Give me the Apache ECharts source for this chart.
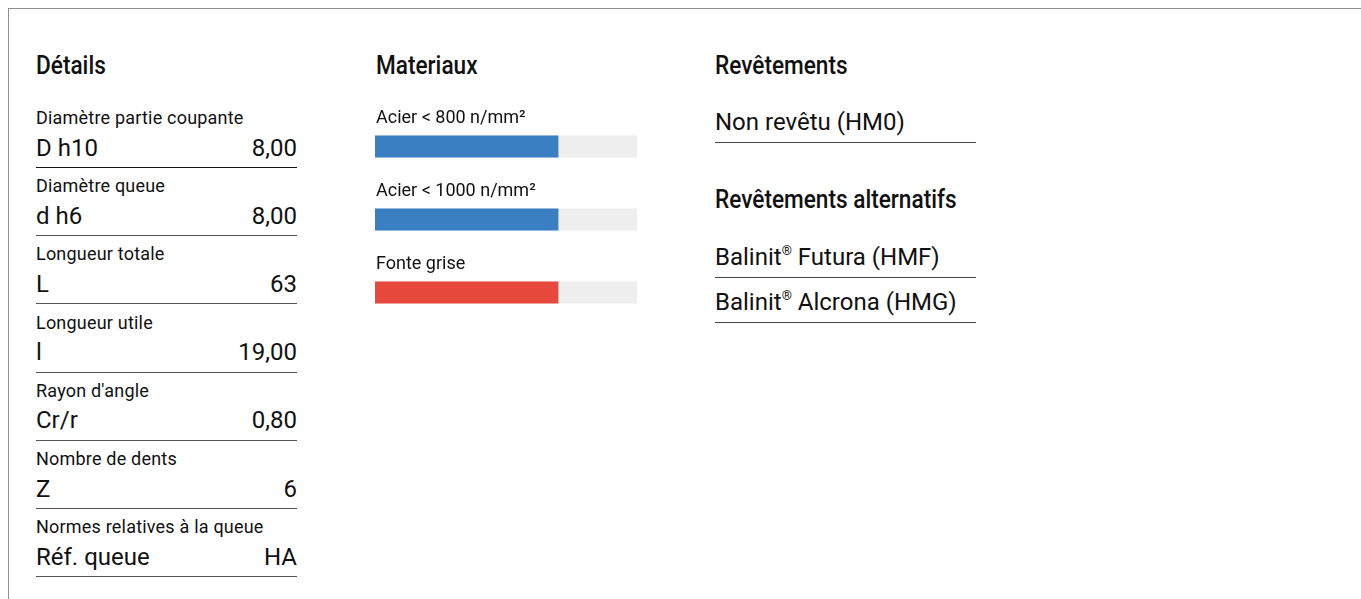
<!DOCTYPE html>
<html>
<head>
<meta charset="utf-8">
<script src="https://cdn.jsdelivr.net/npm/echarts@6/dist/echarts.min.js"></script>
<style>
  html, body { margin: 0; padding: 0; background: #fff; width: 1361px; height: 599px; overflow: hidden; }
  body { font-family: Roboto, "Noto Sans", sans-serif; color: #111; position: relative; }
  #frame { position: absolute; left: 8px; top: 8px; width: 1400px; height: 700px; border-left: 1px solid #8f8f8f; border-top: 1px solid #8f8f8f; }
  .h { position: absolute; font-size: 26px; font-weight: 500; line-height: 30px; color: #111; white-space: nowrap; transform: scaleX(0.87); transform-origin: 0 50%; }
  .lab { position: absolute; font-size: 18px; line-height: 20px; letter-spacing: 0.2px; white-space: nowrap; color: #111; }
  .val { position: absolute; font-size: 24px; line-height: 26px; white-space: nowrap; color: #111; }
  .rule { position: absolute; height: 1px; background: #333; }
  sup { font-size: 13px; vertical-align: 0; position: relative; top: -10px; }
  #chart { position: absolute; left: 360px; top: 90px; width: 300px; height: 240px; }
</style>
</head>
<body>
<div id="frame"></div>
<div id="root"></div>
<div id="chart"></div>
<script>
// ---- data ----
const sectionTitles = ["Détails", "Materiaux", "Revêtements"];
const detailLabels = ["Diamètre partie coupante", "Diamètre queue", "Longueur totale", "Longueur utile", "Rayon d'angle", "Nombre de dents", "Normes relatives à la queue"];
const detailKeys = ["D h10", "d h6", "L", "l", "Cr/r", "Z", "Réf. queue"];
const detailValues = ["8,00", "8,00", "63", "19,00", "0,80", "6", "HA"];
const materials = ["Acier < 800 n/mm²", "Acier < 1000 n/mm²", "Fonte grise"];
const materialValues = [70, 70, 70];
const materialGroups = ["P", "P", "K"];
const coating = "Non revêtu (HM0)";
const altTitle = "Revêtements alternatifs";
const altCoatings = [["Balinit", "Futura (HMF)"], ["Balinit", "Alcrona (HMG)"]];

// ---- layout (HTML text) ----
const root = document.getElementById('root');
function add(cls, text, left, top, extra) {
  const d = document.createElement('div');
  d.className = cls;
  if (extra && extra.html) d.innerHTML = text; else d.textContent = text;
  d.style.left = left + 'px';
  d.style.top = top + 'px';
  if (extra && extra.width) { d.style.width = extra.width + 'px'; }
  if (extra && extra.align) { d.style.textAlign = extra.align; }
  root.appendChild(d);
  return d;
}
function rule(left, top, width, color) {
  const d = document.createElement('div');
  d.className = 'rule';
  d.style.left = left + 'px'; d.style.top = top + 'px'; d.style.width = width + 'px';
  if (color) d.style.background = color;
  root.appendChild(d);
}
add('h', sectionTitles[0], 36, 50);
add('h', sectionTitles[1], 376, 50);
add('h', sectionTitles[2], 715, 50);

const pitch = 68.2;
detailLabels.forEach((l, i) => {
  const y0 = i * pitch;
  add('lab', l, 36, Math.round(108 + y0));
  add('val', detailKeys[i], 36, Math.round(134.5 + y0));
  add('val', detailValues[i], 36, Math.round(134.5 + y0), { width: 261, align: 'right' });
  rule(36, Math.round(167 + y0), 261, i === 0 ? '#111' : '#555');
});

add('val', coating, 715, 109);
rule(715, 142, 261, '#444');
add('h', altTitle, 715, 184);
altCoatings.forEach((c, i) => {
  add('val', c[0] + '<sup>®</sup> ' + c[1], 715, 244 + i * 44.5, { html: true });
  rule(715, Math.round(277 + i * 44.5), 261, '#444');
});

// ---- chart ----
const groupColors = { P: '#3a7fc2', K: '#e8493d' };
const chart = echarts.init(document.getElementById('chart'), null, { renderer: 'canvas' });
chart.setOption({
  animation: false,
  grid: { left: 15, top: 20, width: 262, height: 219 },
  xAxis: { type: 'value', min: 0, max: 100, show: false },
  yAxis: { type: 'category', data: materials, inverse: true, show: false },
  series: [{
    type: 'bar',
    barWidth: 22,
    showBackground: true,
    backgroundStyle: { color: '#eeeeee' },
    data: materialValues.map((v, i) => ({ value: v, itemStyle: { color: groupColors[materialGroups[i]] } })),
    label: {
      show: true,
      position: [1, -26],
      formatter: '{b}',
      fontFamily: 'Roboto',
      fontSize: 18,
      color: '#111'
    }
  }]
});
</script>
</body>
</html>
